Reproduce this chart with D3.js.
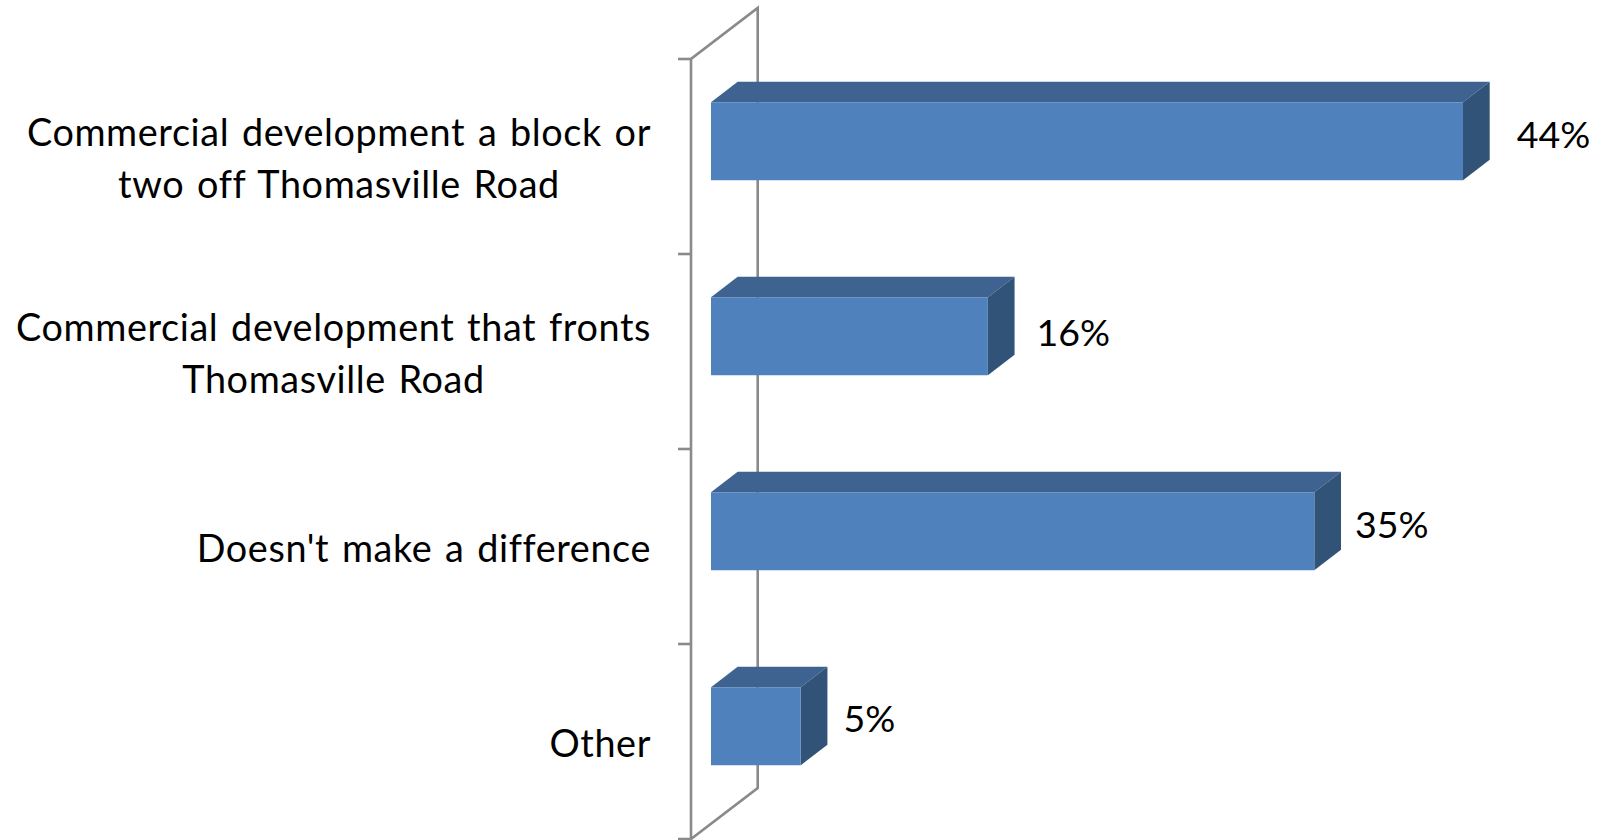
<!DOCTYPE html>
<html>
<head>
<meta charset="utf-8">
<script src="https://cdn.jsdelivr.net/npm/d3@7"></script>
<style>
  html,body{margin:0;padding:0;background:#fff;overflow:hidden}
  svg{display:block}
  text{font-family:Lato,"Open Sans",sans-serif;fill:#000}
</style>
</head>
<body>
<svg width="1604" height="840"></svg>
<script>
// данные
const categories=[
  ['Commercial development a block or','two off Thomasville Road'],
  ['Commercial development that fronts','Thomasville Road'],
  ["Doesn't make a difference"],
  ['Other']
]
const values=[44,16.2,35.3,5.25]

// подписи значений сдвинуты вручную, как в оригинале
const labelNudgeX=[27,22,14,16]
const labelNudgeY=[-23.5,-20.5,-23,-24]

const svg=d3.select('svg')
const fontSize=37.8
const lineHeight=52

const x=d3.scaleLinear().domain([0,44]).range([691,1443])
const y=d3.scaleBand().domain(d3.range(categories.length)).range([59,839]).paddingInner(0.6).paddingOuter(0.3)

// глубина псевдо-3d
const depthX=66.7, depthY=51
const front=0.3, back=0.7
const project=(px,py,d) => [px+d*depthX, py-d*depthY]

const line=d3.line()
const poly=(pts) => line(pts)+'Z'

// стенка оси
const axisG=svg.append('g').attr('fill','none').attr('stroke','#8a8a8a').attr('stroke-width',2.6)
const top0=y.range()[0], bottom=y.range()[1]
axisG.append('path').attr('d',line([
  [x(0),bottom+5],[x(0),top0],
  project(x(0),top0,1),project(x(0),bottom,1),
  [x(0),bottom]
]))

// деления оси
axisG.selectAll('line.tick').data(d3.range(categories.length+1)).join('line')
  .attr('class','tick')
  .attr('x1',x(0)-13).attr('x2',x(0))
  .attr('y1',(d) => top0+d*y.step()).attr('y2',(d) => top0+d*y.step())

// столбцы
const bars=svg.append('g').selectAll('g').data(values).join('g')

const barPts=(v,i) => {
  const x0=x(0), x1=x(v), top=y(i), bot=y(i)+y.bandwidth()
  return {
    a:project(x0,top,front), b:project(x1,top,front),
    c:project(x1,bot,front), e:project(x0,bot,front),
    a2:project(x0,top,back), b2:project(x1,top,back), c2:project(x1,bot,back)
  }
}

bars.append('path').attr('fill','#3e6390')
  .attr('d',(d,i) => { const p=barPts(d,i); return poly([p.a,p.b,p.b2,p.a2]) })
bars.append('path').attr('fill','#325378')
  .attr('d',(d,i) => { const p=barPts(d,i); return poly([p.b,p.b2,p.c2,p.c]) })
bars.append('path').attr('fill','#4f81bd')
  .attr('d',(d,i) => { const p=barPts(d,i); return poly([p.a,p.b,p.c,p.e]) })

// подписи значений
bars.append('text')
  .attr('font-size',37.5)
  .attr('x',(d,i) => barPts(d,i).b2[0]+labelNudgeX[i])
  .attr('y',(d,i) => y(i)+y.bandwidth()/2+labelNudgeY[i])
  .attr('dominant-baseline','central')
  .text((d) => d3.format('.0f')(d)+'%')

// подписи категорий, строки центрированы внутри блока
const labelRight=651
categories.forEach((lines,i) => {
  const g=svg.append('text').attr('font-size',fontSize).attr('text-anchor','middle')
    .attr('letter-spacing',0.6).attr('word-spacing',2.5)
  const spans=g.selectAll('tspan').data(lines).join('tspan').text((d) => d)
  const cy=y(i)+y.bandwidth()/2-lineHeight*(lines.length-1)/2
  spans.attr('x',0).attr('y',(d,k) => cy+k*lineHeight+15.5)
  // ширину берём уже после того, как строки легли друг под другом
  const w=g.node().getBBox().width
  spans.attr('x',labelRight-w/2)
})
</script>
</body>
</html>
